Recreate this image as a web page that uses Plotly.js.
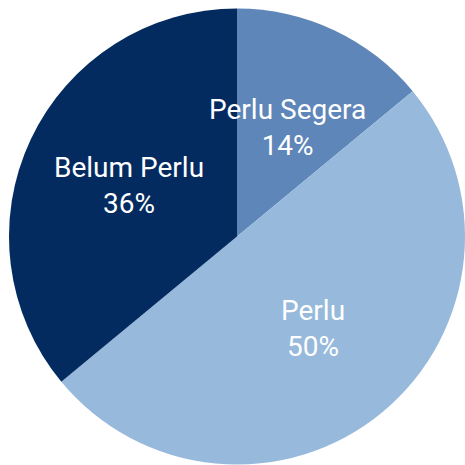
<!DOCTYPE html>
<html>
<head>
<meta charset="utf-8">
<script src="https://cdn.plot.ly/plotly-3.0.1.min.js"></script>
<style>html,body{margin:0;padding:0;background:#fff;}#chart{width:465px;height:465px;}</style>
</head>
<body>
<div id="chart"></div>
<script>
const labels = ["Perlu Segera", "Perlu", "Belum Perlu"];
const values = [14, 50, 36];
const colors = ["#5e86b8", "#96b9dc", "#032b60"];

// label placement: on each slice's middle angle, at a fraction of the radius
const total = values.reduce((a, b) => a + b, 0);
const annotations = [];
let cum = 0;
values.forEach((v, i) => {
  const mid = (cum + v / 2) / total * 2 * Math.PI; // clockwise from 12 o'clock
  cum += v;
  const r = 0.5 * 0.525;
  annotations.push({
    xref: "paper", yref: "paper",
    x: 0.5 + r * Math.sin(mid),
    y: 0.5 + r * Math.cos(mid),
    xanchor: "center", yanchor: "middle",
    showarrow: false,
    text: labels[i] + "<br>" + Math.round(v / total * 100) + "%",
    font: {family: "Roboto", size: 28, color: "#ffffff"}
  });
});

Plotly.newPlot("chart", [{
  type: "pie",
  labels: labels,
  values: values,
  sort: false,
  direction: "clockwise",
  rotation: 0,
  marker: {colors: colors, line: {width: 0}},
  textinfo: "none",
  hoverinfo: "none"
}], {
  width: 465, height: 465,
  margin: {l: 9, r: 0, t: 8, b: 0},
  showlegend: false,
  paper_bgcolor: "#ffffff",
  annotations: annotations
}, {displayModeBar: false, staticPlot: true});
</script>
</body>
</html>
